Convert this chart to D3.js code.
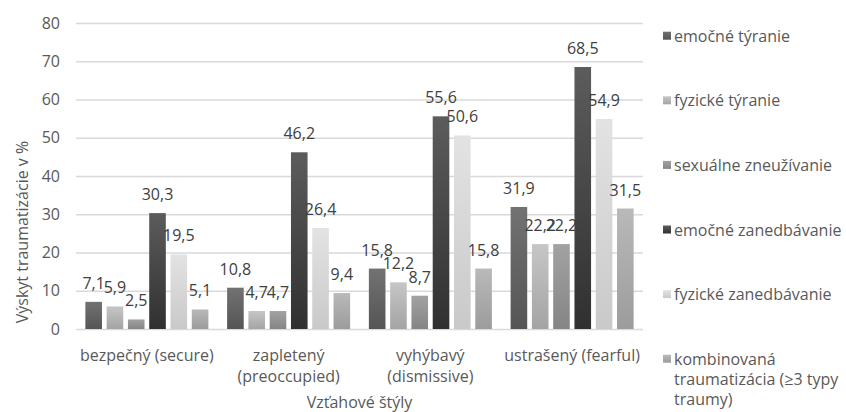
<!DOCTYPE html>
<html>
<head>
<meta charset="utf-8">
<script src="https://cdn.jsdelivr.net/npm/d3@7"></script>
<style>
  html, body { margin: 0; padding: 0; background: #ffffff; }
  svg { display: block; font-family: "Open Sans", "Noto Sans", sans-serif; }
</style>
</head>
<body>
<svg id="chart" width="846" height="412"></svg>
<script>
// Attachment styles (x categories)
const categories = ["bezpečný (secure)", "zapletený (preoccupied)", "vyhýbavý (dismissive)", "ustrašený (fearful)"];

// Trauma types (series)
const seriesNames = [
  "emočné týranie",
  "fyzické týranie",
  "sexuálne zneužívanie",
  "emočné zanedbávanie",
  "fyzické zanedbávanie",
  "kombinovaná traumatizácia (≥3 typy traumy)"
];

// Prevalence in % per attachment style
const emocneTyranie       = [7.1, 10.8, 15.8, 31.9];
const fyzickeTyranie      = [5.9, 4.7, 12.2, 22.2];
const sexualneZneuzivanie = [2.5, 4.7, 8.7, 22.2];
const emocneZanedbavanie  = [30.3, 46.2, 55.6, 68.5];
const fyzickeZanedbavanie = [19.5, 26.4, 50.6, 54.9];
const kombinovana         = [5.1, 9.4, 15.8, 31.5];

const seriesValues = [emocneTyranie, fyzickeTyranie, sexualneZneuzivanie,
                      emocneZanedbavanie, fyzickeZanedbavanie, kombinovana];

const yTicks = [0, 10, 20, 30, 40, 50, 60, 70, 80];

const yTitle = "Výskyt traumatizácie v %";
const xTitle = "Vzťahové štýly";

// Per-series gradient (top, bottom)
const fills = [
  ["#727272", "#555555"],
  ["#c6c6c6", "#a4a4a4"],
  ["#a2a2a2", "#858585"],
  ["#5c5c5c", "#303030"],
  ["#e3e3e3", "#c9c9c9"],
  ["#b9b9b9", "#9c9c9c"]
];

const FONT = "16px";

const svg = d3.select("#chart");
const plot = { left: 76, right: 643, top: 23, bottom: 329 };

const defs = svg.append("defs");
fills.forEach((f, i) => {
  const g = defs.append("linearGradient")
    .attr("id", "grad" + i)
    .attr("x1", 0).attr("y1", 0).attr("x2", 0).attr("y2", 1);
  g.append("stop").attr("offset", "0%").attr("stop-color", f[0]);
  g.append("stop").attr("offset", "100%").attr("stop-color", f[1]);
});

const y = d3.scaleLinear().domain([0, 80]).range([plot.bottom, plot.top]);
const x0 = d3.scaleBand().domain(categories).range([plot.left, plot.right]);
const x1 = d3.scaleBand().domain(d3.range(seriesNames.length))
  .range([0, x0.bandwidth()]).paddingInner(0.22).paddingOuter(0.44);

const fmt = v => d3.format(".1f")(v).replace(".", ",");

// Gridlines and tick labels
const yAxis = d3.axisLeft(y).tickValues(yTicks).tickSize(-(plot.right - plot.left)).tickPadding(16);
const gy = svg.append("g").attr("transform", `translate(${plot.left},0)`).call(yAxis);
gy.select(".domain").remove();
gy.selectAll(".tick line").attr("stroke", "#d9d9d9").attr("stroke-width", 1.3);
gy.selectAll(".tick text")
  .attr("fill", "#595959")
  .style("font-size", FONT)
  .style("font-family", "'Open Sans', sans-serif");

// Bars
const groups = svg.append("g").selectAll("g")
  .data(categories)
  .join("g")
  .attr("transform", d => `translate(${x0(d)},0)`);

groups.selectAll("rect")
  .data((c, ci) => seriesValues.map((vals, si) => ({ si, v: vals[ci] })))
  .join("rect")
  .attr("x", d => x1(d.si))
  .attr("width", x1.bandwidth())
  .attr("y", d => y(d.v))
  .attr("height", d => y(0) - y(d.v))
  .attr("fill", d => `url(#grad${d.si})`);

// Data labels
groups.selectAll("text.val")
  .data((c, ci) => seriesValues.map((vals, si) => ({ si, v: vals[ci] })))
  .join("text")
  .attr("class", "val")
  .attr("x", d => x1(d.si) + x1.bandwidth() / 2)
  .attr("y", d => y(d.v) - 13)
  .attr("text-anchor", "middle")
  .attr("fill", "#404040")
  .style("font-size", FONT)
  .text(d => fmt(d.v));

// Word wrapping helper
function wrap(textSel, width, lineHeight) {
  textSel.each(function () {
    const t = d3.select(this);
    const words = t.text().split(/\s+/);
    const x = t.attr("x");
    t.text(null);
    let line = [];
    let tspan = t.append("tspan").attr("x", x).attr("dy", 0);
    words.forEach(w => {
      line.push(w);
      tspan.text(line.join(" "));
      if (tspan.node().getComputedTextLength() > width && line.length > 1) {
        line.pop();
        tspan.text(line.join(" "));
        line = [w];
        tspan = t.append("tspan").attr("x", x).attr("dy", lineHeight).text(w);
      }
    });
  });
}

// Category labels
svg.append("g").selectAll("text")
  .data(categories)
  .join("text")
  .attr("x", d => x0(d) + x0.bandwidth() / 2)
  .attr("y", 361)
  .attr("text-anchor", "middle")
  .attr("fill", "#595959")
  .style("font-size", FONT)
  .text(d => d)
  .call(wrap, x0.bandwidth(), 21);

// Axis titles
svg.append("text")
  .attr("transform", `translate(28,232) rotate(-90)`)
  .attr("text-anchor", "middle")
  .attr("fill", "#595959")
  .style("font-size", FONT)
  .text(yTitle);

svg.append("text")
  .attr("x", (plot.left + plot.right) / 2)
  .attr("y", 408)
  .attr("text-anchor", "middle")
  .attr("fill", "#595959")
  .style("font-size", FONT)
  .text(xTitle);

// Legend
const legend = svg.append("g").selectAll("g")
  .data(seriesNames)
  .join("g")
  .attr("transform", (d, i) => `translate(663,${35.7 + i * 64.6})`);

legend.append("rect")
  .attr("x", 0).attr("y", -4)
  .attr("width", 8).attr("height", 8)
  .attr("fill", (d, i) => `url(#grad${i})`);

legend.append("text")
  .attr("x", 11)
  .attr("y", 6)
  .attr("fill", "#595959")
  .style("font-size", FONT)
  .text(d => d)
  .call(wrap, 172, 20);
</script>
</body>
</html>
